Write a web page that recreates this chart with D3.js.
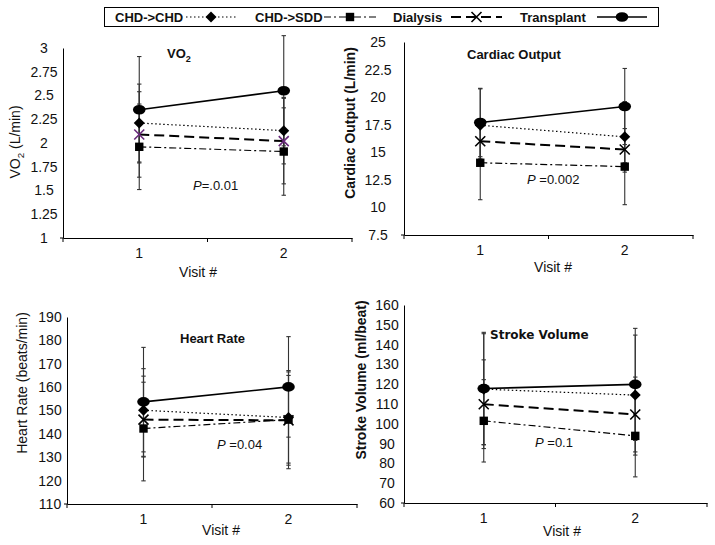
<!DOCTYPE html>
<html><head><meta charset="utf-8">
<script src="https://cdn.jsdelivr.net/npm/d3@7"></script>
<style>body{margin:0;background:#fff}svg{display:block;font-family:"Liberation Sans",Arial,sans-serif}</style>
</head><body><svg id="c" width="715" height="545"></svg>
<script>
// ---------- data ----------
const visits = ["1", "2"];
const seriesNames = ["CHD->CHD", "CHD->SDD", "Dialysis", "Transplant"];

// VO2 (L/min)  [CHD->CHD, CHD->SDD, Dialysis, Transplant], values at visit 1 and 2
const vo2Ticks = [1, 1.25, 1.5, 1.75, 2, 2.25, 2.5, 2.75, 3];
const vo2Mean = [[2.21, 2.13], [1.96, 1.91], [2.09, 2.02], [2.35, 2.55]];
const vo2Err  = [[0.41, 0.35], [0.45, 0.46], [0.45, 0.45], [0.56, 0.58]];

// Cardiac output (L/min)
const coTicks = [7.5, 10, 12.5, 15, 17.5, 20, 22.5, 25];
const coMean = [[17.45, 16.4], [14.05, 13.7], [16.0, 15.25], [17.7, 19.15]];
const coErr  = [[3.3, 3.2], [3.35, 3.45], [1.6, 1.2], [3.1, 3.45]];

// Heart rate (beats/min)
const hrTicks = [110, 120, 130, 140, 150, 160, 170, 180, 190];
const hrMean = [[150.1, 147.0], [142.3, 146.1], [146.1, 145.8], [153.7, 160.1]];
const hrErr  = [[17.8, 19.5], [22.4, 21.0], [16.0, 19.2], [23.3, 21.5]];

// Stroke volume (ml/beat)
const svTicks = [60, 70, 80, 90, 100, 110, 120, 130, 140, 150, 160];
const svMean = [[117.5, 114.5], [101.5, 93.9], [109.9, 104.7], [117.8, 119.9]];
const svErr  = [[28.0, 30.3], [20.8, 20.7], [22.4, 18.9], [28.4, 28.3]];

const pValues = ["=.0.01", " =0.002", " =0.04", " =0.1"];

// ---------- styles ----------
const lineStyle = [
  {w: 1.2, dash: "1.5,2.5"},
  {w: 1.2, dash: "7,3,2,3"},
  {w: 2,   dash: "10,5"},
  {w: 1.6, dash: null}
];
const svg = d3.select("#c");

function marker(g, i, x, y, color) {
  color = color || "#000";
  if (i === 0) {
    g.append("path").attr("d", `M${x},${y-5.5}L${x+5.5},${y}L${x},${y+5.5}L${x-5.5},${y}Z`).attr("fill", color);
  } else if (i === 1) {
    g.append("rect").attr("x", x-4.2).attr("y", y-4.2).attr("width", 8.4).attr("height", 8.4).attr("fill", color);
  } else if (i === 2) {
    g.append("path").attr("d", `M${x-5},${y-5}L${x+5},${y+5}M${x-5},${y+5}L${x+5},${y-5}`)
      .attr("stroke", color).attr("stroke-width", 1.6).attr("fill", "none");
  } else {
    g.append("ellipse").attr("cx", x).attr("cy", y).attr("rx", 6.3).attr("ry", 4.8).attr("fill", color);
  }
}

const panels = [
  {mean: vo2Mean, err: vo2Err, ticks: vo2Ticks, x0: 63, x1: 352, yTop: 48, yBot: 238,
   labX: 19, yTitle: {x: 15, y: 142, bold: false, parts: [["VO"], ["2", "sub"], [" (L/min)"]]},
   title: {x: 167, y: 58, parts: [["VO"], ["2", "sub"]], font: "Liberation Sans", size: 13},
   p: {x: 193, y: 190, text: pValues[0]}, visit: {x: 198, y: 277}, xColor2: "#6a2a7c"},
  {mean: coMean, err: coErr, ticks: coTicks, x0: 404, x1: 693, yTop: 42, yBot: 235,
   labX: 26, yTitle: {x: 350, y: 123, bold: true, parts: [["Cardiac Output (L/min)"]]},
   title: {x: 467, y: 59, parts: [["Cardiac Output"]], font: "Liberation Sans", size: 13},
   p: {x: 527, y: 184, text: pValues[1]}, visit: {x: 553, y: 272}},
  {mean: hrMean, err: hrErr, ticks: hrTicks, x0: 67, x1: 357, yTop: 317, yBot: 504,
   labX: 17, yTitle: {x: 22, y: 383, bold: false, parts: [["Heart Rate (beats/min)"]]},
   title: {x: 180, y: 343, parts: [["Heart Rate"]], font: "Liberation Sans", size: 13},
   p: {x: 217, y: 449, text: pValues[2]}, visit: {x: 221, y: 535}},
  {mean: svMean, err: svErr, ticks: svTicks, x0: 404, x1: 707, yTop: 305, yBot: 503,
   labX: 17, yTitle: {x: 361, y: 380, bold: true, parts: [["Stroke Volume (ml/beat)"]]},
   title: {x: 490, y: 339, parts: [["Stroke Volume"]], font: "DejaVu Sans", size: 12},
   p: {x: 535, y: 447, text: pValues[3]}, visit: {x: 562, y: 536}}
];

function addParts(t, parts, base) {
  parts.forEach(([s, kind]) => {
    const ts = t.append("tspan").text(s);
    if (kind === "sub") ts.attr("font-size", base * 0.7).attr("dy", base * 0.3);
    else if (t.selectAll("tspan").size() > 1) ts.attr("dy", -base * 0.3);
  });
}

panels.forEach(P => {
  const g = svg.append("g");
  const ext = d3.extent(P.ticks);
  const y = d3.scaleLinear().domain(ext).range([P.yBot, P.yTop]);
  const xb = d3.scaleBand().domain(visits).range([P.x0, P.x1]);
  const xp = v => xb(v) + xb.bandwidth() / 2 + 4;

  // y axis
  const ya = g.append("g").attr("transform", `translate(${P.x0},0)`)
    .call(d3.axisLeft(y).tickValues(P.ticks).tickSize(0).tickSizeOuter(0).tickFormat(d => String(d)));
  ya.select(".domain").attr("stroke", "#000");
  ya.selectAll("text").attr("x", -P.labX).attr("text-anchor", "middle")
    .attr("font-size", 14).attr("font-family", "Liberation Sans").attr("fill", "#111");

  // x axis
  const xa = g.append("g").attr("transform", `translate(0,${P.yBot})`)
    .call(d3.axisBottom(xb).tickSize(0).tickSizeOuter(0).tickPadding(10));
  xa.select(".domain").attr("stroke", "#000");
  xa.selectAll("text").attr("dx", 4).attr("font-size", 14).attr("font-family", "Liberation Sans").attr("fill", "#111");
  const bounds = visits.map(v => xb(v)).concat([P.x1]);
  xa.selectAll(".bt").data(bounds).enter().append("line")
    .attr("x1", d => d).attr("x2", d => d).attr("y1", 0).attr("y2", 4).attr("stroke", "#000");
  g.append("line").attr("x1", P.x0 - 3).attr("x2", P.x0).attr("y1", P.yBot).attr("y2", P.yBot).attr("stroke", "#000");

  // error bars
  P.mean.forEach((ser, i) => {
    ser.forEach((m, j) => {
      const e = P.err[i][j], x = xp(visits[j]);
      const col = "#333";
      g.append("line").attr("x1", x).attr("x2", x).attr("y1", y(m - e)).attr("y2", y(m + e)).attr("stroke", col).attr("stroke-width", 1.1);
      [m - e, m + e].forEach(v => g.append("line").attr("x1", x - 2.2).attr("x2", x + 2.2)
        .attr("y1", y(v)).attr("y2", y(v)).attr("stroke", col).attr("stroke-width", 1.1));
    });
  });

  // lines
  const line = d3.line().x((d, j) => xp(visits[j])).y(d => y(d));
  P.mean.forEach((ser, i) => {
    const p = g.append("path").attr("d", line(ser)).attr("fill", "none").attr("stroke", "#000")
      .attr("stroke-width", lineStyle[i].w);
    if (lineStyle[i].dash) p.attr("stroke-dasharray", lineStyle[i].dash);
  });
  // markers
  [1, 2, 0, 3].forEach(i => {
    P.mean[i].forEach((m, j) => marker(g, i, xp(visits[j]), y(m), (i === 2 && P.xColor2) ? P.xColor2 : "#000"));
  });

  // y title
  const yt = g.append("text").attr("transform", `translate(${P.yTitle.x},${P.yTitle.y}) rotate(-90)`)
    .attr("text-anchor", "middle").attr("dy", "0.35em").attr("font-size", 14)
    .attr("font-weight", P.yTitle.bold ? "bold" : "normal").attr("fill", "#111");
  addParts(yt, P.yTitle.parts, 14);

  // panel title
  const tt = g.append("text").attr("x", P.title.x).attr("y", P.title.y).attr("font-weight", "bold")
    .attr("font-size", P.title.size).attr("font-family", P.title.font).attr("fill", "#111");
  addParts(tt, P.title.parts, P.title.size);

  // p value
  const pt = g.append("text").attr("x", P.p.x).attr("y", P.p.y).attr("font-size", 13).attr("fill", "#111");
  pt.append("tspan").attr("font-style", "italic").text("P");
  pt.append("tspan").text(P.p.text);

  // visit label
  g.append("text").attr("x", P.visit.x).attr("y", P.visit.y).attr("text-anchor", "middle")
    .attr("font-size", 14).attr("fill", "#111").text("Visit #");
});

// ---------- legend ----------
const leg = svg.append("g");
leg.append("rect").attr("x", 104.5).attr("y", 7.5).attr("width", 554).attr("height", 19)
  .attr("fill", "#fff").attr("stroke", "#000").attr("stroke-width", 1);
const legTextX = [115, 255, 393, 520];
const legSample = [[186, 236], [324, 376], [451, 502], [597, 647]];
seriesNames.forEach((name, i) => {
  leg.append("text").attr("x", legTextX[i]).attr("y", 22).attr("font-size", 13).attr("font-weight", "bold")
    .attr("fill", "#111").text(name);
  const [a, b] = legSample[i];
  const l = leg.append("line").attr("x1", a).attr("x2", b).attr("y1", 17).attr("y2", 17)
    .attr("stroke", "#000").attr("stroke-width", lineStyle[i].w);
  if (lineStyle[i].dash) l.attr("stroke-dasharray", lineStyle[i].dash);
  marker(leg, i, (a + b) / 2, 17, "#000");
});
</script></body></html>
